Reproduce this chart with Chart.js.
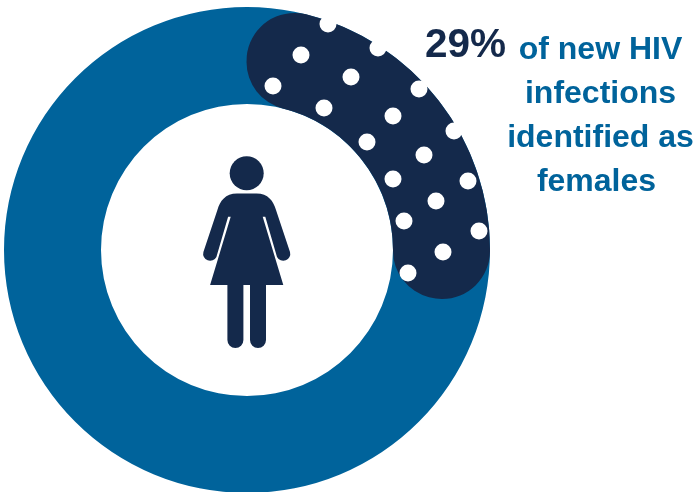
<!DOCTYPE html>
<html>
<head>
<meta charset="utf-8">
<title>New HIV infections identified as females</title>
<script src="https://cdn.jsdelivr.net/npm/chart.js@4/dist/chart.umd.js"></script>
<style>
  html, body { margin:0; padding:0; background:#fff; }
  #wrap { position:relative; width:694px; height:492px; overflow:hidden; font-family:"Liberation Sans", Arial, sans-serif; font-weight:bold; }
  canvas { position:absolute; }
  .pct { position:absolute; left:425px; top:20px; font-size:40.5px; line-height:46px; color:#14294b; }
  .note { position:absolute; width:200px; text-align:center; left:500.5px; font-size:32px; line-height:44px; height:44px; color:#00639b; white-space:nowrap; }
</style>
</head>
<body>
<div id="wrap">
  <canvas id="ring" width="486" height="486" style="left:4px;top:7px"></canvas>
  <canvas id="share" width="486" height="486" style="left:4px;top:7px"></canvas>
  <canvas id="dots" width="694" height="492" style="left:0;top:0"></canvas>
  <div class="pct" id="pct"></div>
  <div id="lines"></div>
</div>
<script>
'use strict';
const categories = ['Females', 'Other'];
const shares = [29, 71];
const pctLabel = '29%';
const noteLines = ['of new HIV', 'infections', 'identified as', 'females'];
const dotX = [328, 378, 419, 454, 468, 479, 443, 408, 404, 436, 393, 424, 367, 393, 351, 324, 301, 273];
const dotY = [24, 48, 89, 131, 181, 231, 252, 273, 221, 201, 179, 155, 142, 116, 77, 108, 55, 86];

const BLUE = '#00639b', NAVY = '#14294b';

const baseOpts = (overrides = {}) => ({
  responsive: false, animation: false,
  layout: { padding: 0, autoPadding: false },
  plugins: { legend: { display: false }, tooltip: { enabled: false } },
  events: [],
  ...overrides,
});

document.getElementById('pct').textContent = pctLabel;
// last line sits a little left of the others in the original
document.getElementById('lines').innerHTML = noteLines
  .map((t, i) => `<div class="note" style="top:${26 + i * 44}px;margin-left:${i === 3 ? -4 : 0}px">${t}</div>`).join('');

// Full blue ring underneath
new Chart(document.getElementById('ring'), {
  type: 'doughnut',
  data: { labels: ['All'], datasets: [{ data: [shares[0] + shares[1]], backgroundColor: [BLUE], borderWidth: 0 }] },
  options: baseOpts({ cutout: 146 }),
});

// Rounded navy share on top
new Chart(document.getElementById('share'), {
  type: 'doughnut',
  data: {
    labels: categories,
    datasets: [{ data: shares, backgroundColor: [NAVY, 'rgba(0,0,0,0)'], borderWidth: 0, borderRadius: [48, 0] }],
  },
  options: baseOpts({ cutout: 146 }),
});

// Person icon, drawn after the dots layer
const personIcon = {
  id: 'personIcon',
  afterDraw(chart) {
    const { ctx } = chart;
    const body = new Path2D('M237 193.5 H256.5 C268 193.5 273.5 201 276 210 L290 252 A7 7 0 0 1 277 257 L265.3 216.7 H262.7 L283.3 285 H266 V340 A8 8 0 0 1 250 340 V285 H243.4 V340 A8 8 0 0 1 227.4 340 V285 H210.1 L230.7 216.7 H228.1 L216.4 257 A7 7 0 0 1 203.4 252 L217.4 210 C219.9 201 225.4 193.5 237 193.5 Z');
    ctx.save();
    ctx.fillStyle = NAVY;
    ctx.fill(body);
    ctx.beginPath();
    ctx.arc(246.7, 173.3, 17, 0, Math.PI * 2);
    ctx.fill();
    ctx.restore();
  },
};

// White dots over the navy share
new Chart(document.getElementById('dots'), {
  type: 'scatter',
  data: {
    datasets: [{
      data: dotX.map((x, i) => ({ x, y: dotY[i] })),
      pointRadius: 8.5, pointBackgroundColor: '#fff', pointBorderWidth: 0, clip: false,
    }],
  },
  options: baseOpts({
    scales: {
      x: { type: 'linear', min: 0, max: 694, display: false },
      y: { type: 'linear', min: 0, max: 492, reverse: true, display: false },
    },
  }),
  plugins: [personIcon],
});
</script>
</body>
</html>
